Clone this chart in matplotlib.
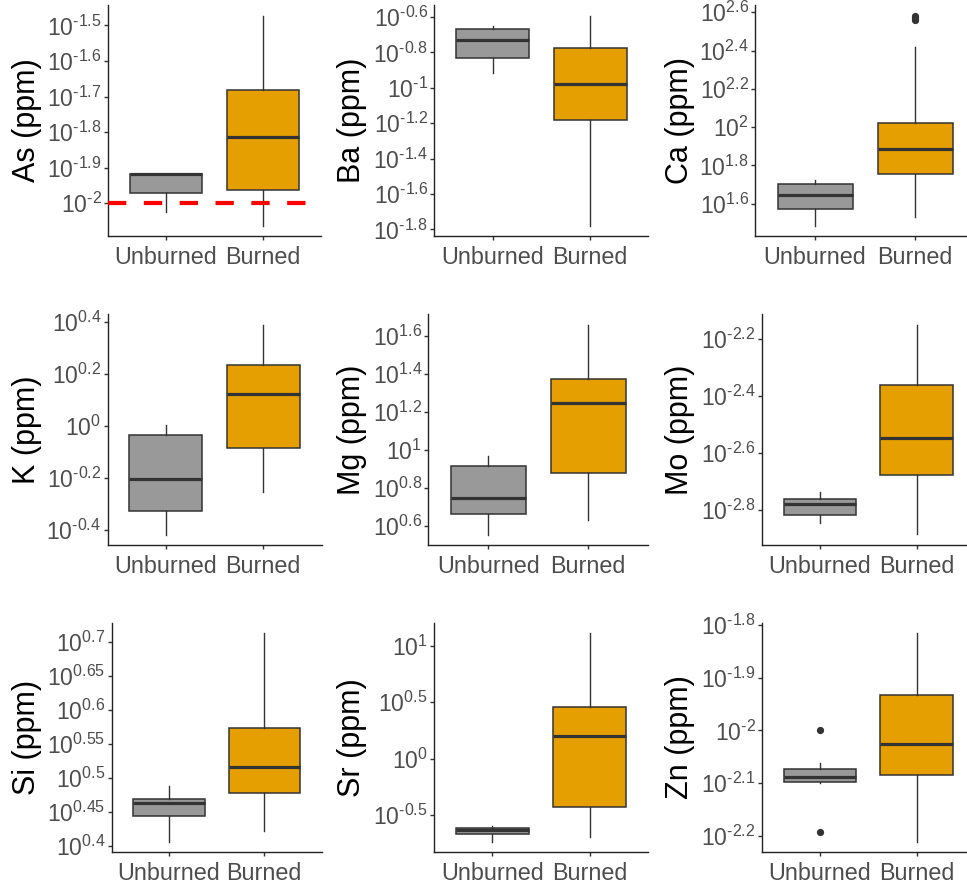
import matplotlib
matplotlib.use("Agg")
import matplotlib.pyplot as plt
from matplotlib.ticker import FixedLocator, FixedFormatter, NullLocator
import numpy as np

plt.rcParams['font.family'] = ['Liberation Sans', 'DejaVu Sans']
plt.rcParams['mathtext.fontset'] = 'custom'
plt.rcParams['mathtext.rm'] = 'Liberation Sans'
plt.rcParams['mathtext.it'] = 'Liberation Sans:italic'
plt.rcParams['mathtext.bf'] = 'Liberation Sans:bold'

# ---------------- data (log10 of ppm) ----------------
elements = ["As", "Ba", "Ca", "K", "Mg", "Mo", "Si", "Sr", "Zn"]
groups = ["Unburned", "Burned"]

unburned_whislo = [-2.025, -0.915, 1.486, -0.419, 0.556, -2.844, 0.406, -0.735, -2.100]
unburned_q1     = [-1.972, -0.833, 1.574, -0.329, 0.662, -2.818, 0.443, -0.665, -2.097]
unburned_med    = [-1.918, -0.729, 1.647, -0.206, 0.750, -2.779, 0.462, -0.635, -2.089]
unburned_q3     = [-1.917, -0.668, 1.701, -0.036, 0.917, -2.760, 0.468, -0.615, -2.073]
unburned_whishi = [-1.917, -0.649, 1.722, 0.003, 0.970, -2.735, 0.488, -0.597, -2.062]
unburned_outliers = [[], [], [], [], [], [], [], [], [-1.999, -2.192]]

burned_whislo = [-2.063, -1.778, 1.531, -0.254, 0.630, -2.885, 0.422, -0.691, -2.211]
burned_q1     = [-1.962, -1.184, 1.754, -0.084, 0.882, -2.675, 0.478, -0.429, -2.085]
burned_med    = [-1.815, -0.977, 1.886, 0.121, 1.249, -2.547, 0.516, 0.197, -2.025]
burned_q3     = [-1.681, -0.773, 2.024, 0.235, 1.375, -2.360, 0.573, 0.456, -1.933]
burned_whishi = [-1.472, -0.592, 2.417, 0.390, 1.662, -2.149, 0.712, 1.109, -1.816]
burned_outliers = [[], [], [2.557, 2.571, 2.583], [], [], [], [], [], []]

ytick_exponents = [
    [-2.0, -1.9, -1.8, -1.7, -1.6, -1.5],
    [-1.8, -1.6, -1.4, -1.2, -1.0, -0.8, -0.6],
    [1.6, 1.8, 2.0, 2.2, 2.4, 2.6],
    [-0.4, -0.2, 0.0, 0.2, 0.4],
    [0.6, 0.8, 1.0, 1.2, 1.4, 1.6],
    [-2.8, -2.6, -2.4, -2.2],
    [0.40, 0.45, 0.50, 0.55, 0.60, 0.65, 0.70],
    [-0.5, 0.0, 0.5, 1.0],
    [-2.2, -2.1, -2.0, -1.9, -1.8],
]

as_detection_limit = -2.0  # log10 ppm, red dashed line in As panel

# ---------------- layout (pixels) ----------------
W, H = 967, 886
fig = plt.figure(figsize=(W / 100, H / 100), dpi=100)

panel_x = [(107.8, 321.0), (434.3, 648.4), (755.0, 975.0),
           (107.6, 321.7), (428.3, 648.3), (762.0, 974.7),
           (111.8, 321.5), (434.0, 648.0), (762.0, 974.7)]
row_y = [(5, 236), (314, 545), (623, 852)]
label_x = [27, 352, 680]

fill_colors = ["#999999", "#E69F00"]
edge = "#333333"
tickcol = "#4D4D4D"


def fmt_exp(v):
    s = f"{v:g}"
    return r"$10^{\text{" + s + "}}$"


for i, el in enumerate(elements):
    r, c = divmod(i, 3)
    L, R = panel_x[i]
    T, B = row_y[r]
    ax = fig.add_axes([L / W, 1 - B / H, (R - L) / W, (B - T) / H])

    stats = [
        dict(med=10 ** unburned_med[i], q1=10 ** unburned_q1[i], q3=10 ** unburned_q3[i],
             whislo=10 ** unburned_whislo[i], whishi=10 ** unburned_whishi[i],
             fliers=10 ** np.array(unburned_outliers[i], dtype=float), label=groups[0]),
        dict(med=10 ** burned_med[i], q1=10 ** burned_q1[i], q3=10 ** burned_q3[i],
             whislo=10 ** burned_whislo[i], whishi=10 ** burned_whishi[i],
             fliers=10 ** np.array(burned_outliers[i], dtype=float), label=groups[1]),
    ]
    bp = ax.bxp(stats, positions=[1, 2], widths=0.75, patch_artist=True,
                showcaps=False,
                boxprops=dict(edgecolor=edge, linewidth=1.1),
                medianprops=dict(color=edge, linewidth=2.3, solid_capstyle='butt'),
                whiskerprops=dict(color=edge, linewidth=1.0),
                flierprops=dict(marker='o', markerfacecolor=edge, markeredgecolor=edge,
                                markersize=4.2, linestyle='none'))
    for patch, fc in zip(bp['boxes'], fill_colors):
        patch.set_facecolor(fc)

    ax.set_yscale('log')
    all_vals = (unburned_outliers[i] + burned_outliers[i] +
                [unburned_whislo[i], unburned_whishi[i], burned_whislo[i], burned_whishi[i]])
    lo, hi = min(all_vals), max(all_vals)
    rng = hi - lo
    ax.set_ylim(10 ** (lo - 0.05 * rng), 10 ** (hi + 0.05 * rng))
    ax.set_xlim(0.4, 2.6)

    ticks = ytick_exponents[i]
    ax.yaxis.set_major_locator(FixedLocator([10 ** t for t in ticks]))
    ax.yaxis.set_major_formatter(FixedFormatter([fmt_exp(t) for t in ticks]))
    ax.yaxis.set_minor_locator(NullLocator())

    if el == "As":
        ax.axhline(10 ** as_detection_limit, color="#FF0000", linewidth=3.0,
                   linestyle=(0, (4.4, 4.2)), zorder=5)

    ax.set_xticks([1, 2])
    ax.set_xticklabels(groups)

    for s in ['top', 'right']:
        ax.spines[s].set_visible(False)
    for s in ['left', 'bottom']:
        ax.spines[s].set_color('#222222')
        ax.spines[s].set_linewidth(1.0)
    ax.tick_params(axis='y', labelsize=16.5, labelcolor=tickcol, color=edge,
                   length=3, width=1.0, pad=1.5)
    ax.tick_params(axis='x', labelsize=16.8, labelcolor=tickcol, color=edge,
                   length=3, width=1.0, pad=4)
    ax.set_facecolor('white')

    fig.text(label_x[c] / W, 1 - ((T + B) / 2) / H, f"{el} (ppm)", rotation=90,
             ha='center', va='center', fontsize=22, color='black')

fig.savefig("out.png", dpi=100, facecolor='white')
